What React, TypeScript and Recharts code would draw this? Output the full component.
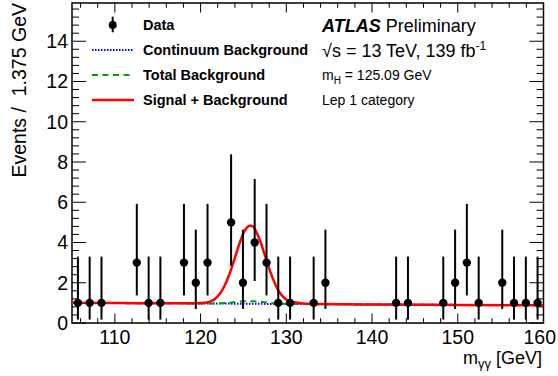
import {
  ComposedChart,
  Line,
  Scatter,
  ErrorBar,
  XAxis,
  YAxis,
  ReferenceArea,
} from "recharts";

/* ── layout ── */
const W = 558;
const H = 376;
const PLOT = { left: 72, right: 543.5, top: 3, bottom: 323 };
const FONT = "'Liberation Sans', Arial, Helvetica, sans-serif";

/* ── axes ── */
const X_MIN = 105;
const X_MAX = 160;
const Y_MAX = 15.9;
const X_MAJOR = [110, 120, 130, 140, 150, 160];
const X_TICKS = [106, 108, 110, 112, 114, 116, 118, 120, 122, 124, 126, 128, 130, 132, 134, 136, 138, 140, 142, 144, 146, 148, 150, 152, 154, 156, 158, 160];
const Y_MAJOR = [0, 2, 4, 6, 8, 10, 12, 14];
const Y_TICKS = [
  0, 0.4, 0.8, 1.2, 1.6, 2, 2.4, 2.8, 3.2, 3.6, 4, 4.4, 4.8, 5.2, 5.6, 6, 6.4, 6.8, 7.2, 7.6,
  8, 8.4, 8.8, 9.2, 9.6, 10, 10.4, 10.8, 11.2, 11.6, 12, 12.4, 12.8, 13.2, 13.6, 14, 14.4, 14.8, 15.2, 15.6,
];

/* ── data points (non-empty 1.375 GeV bins) ── */
const DATA_MASS = [
  105.69, 107.06, 108.44, 112.56, 113.94, 115.31, 118.06, 119.44, 120.81, 123.56, 124.94, 126.31, 127.69, 129.06,
  130.44, 133.19, 134.56, 142.81, 144.19, 148.31, 149.69, 151.06, 152.44, 155.19, 156.56, 157.94, 159.31,
];
const DATA_EVENTS = [1, 1, 1, 3, 1, 1, 3, 2, 3, 5, 2, 4, 3, 1, 1, 1, 2, 1, 1, 1, 2, 3, 1, 2, 1, 1, 1];
// poisson interval per count: [down, up]
const POISSON_ERR: Record<number, [number, number]> = {
  1: [0.83, 2.3],
  2: [1.3, 2.64],
  3: [1.63, 2.92],
  4: [1.91, 3.16],
  5: [2.16, 3.38],
};

/* ── fit curves ── */
const CURVE_MASS = [105, 110, 115, 118, 120, 121, 122, 122.5, 123, 123.5, 124, 124.5, 125, 125.5, 125.8, 126.1, 126.5, 127, 127.5, 128, 128.5, 129, 129.5, 130, 131, 132, 134, 140, 150, 160];
const CONTINUUM = [1.0, 0.99, 0.98, 0.975, 0.97, 0.97, 0.965, 0.965, 0.965, 0.96, 0.96, 0.96, 0.96, 0.955, 0.955, 0.955, 0.955, 0.955, 0.95, 0.95, 0.95, 0.95, 0.95, 0.945, 0.945, 0.94, 0.935, 0.92, 0.9, 0.88];
const TOTAL_BKG = [1.0, 0.99, 0.98, 0.975, 0.97, 0.972, 0.976, 0.985, 0.998, 1.012, 1.034, 1.057, 1.077, 1.083, 1.085, 1.083, 1.074, 1.056, 1.029, 1.006, 0.987, 0.972, 0.962, 0.951, 0.946, 0.94, 0.935, 0.92, 0.9, 0.88];
const SIG_BKG = [1.0, 0.99, 0.98, 0.98, 0.99, 1.05, 1.32, 1.62, 2.04, 2.59, 3.24, 3.91, 4.46, 4.78, 4.83, 4.8, 4.53, 4.01, 3.37, 2.7, 2.13, 1.67, 1.36, 1.17, 1.03, 0.97, 0.94, 0.92, 0.9, 0.88];

const curve = CURVE_MASS.map((m, i) => ({
  m,
  cont: CONTINUUM[i],
  tot: TOTAL_BKG[i],
  sb: SIG_BKG[i],
}));

const points = DATA_MASS.map((m, i) => ({
  m,
  n: DATA_EVENTS[i],
  err: POISSON_ERR[DATA_EVENTS[i]],
}));

/* ── ticks drawn inward on all four sides ── */
const XTick = (p: any) => {
  const v = p.payload.value;
  const major = X_MAJOR.includes(v);
  const len = major ? 9.5 : 4.8;
  // last label is pulled in so it stays on the canvas
  const last = v === X_MAX;
  return (
    <g>
      <line x1={p.x} x2={p.x} y1={PLOT.bottom} y2={PLOT.bottom - len} stroke="#000" />
      <line x1={p.x} x2={p.x} y1={PLOT.top} y2={PLOT.top + len} stroke="#000" />
      {major && (
        <text
          x={last ? W - 2 : p.x}
          y={PLOT.bottom + 21}
          textAnchor={last ? "end" : "middle"}
          fontSize={19.5}
          fontFamily={FONT}
          fill="#000"
        >
          {v}
        </text>
      )}
    </g>
  );
};

const YTick = (p: any) => {
  const v = p.payload.value;
  const major = Y_MAJOR.includes(v);
  const len = major ? 14 : 7;
  return (
    <g>
      <line x1={PLOT.left} x2={PLOT.left + len} y1={p.y} y2={p.y} stroke="#000" />
      <line x1={PLOT.right} x2={PLOT.right - len} y1={p.y} y2={p.y} stroke="#000" />
      {major && (
        <text x={PLOT.left - 4} y={p.y + 7} textAnchor="end" fontSize={19.5} fontFamily={FONT} fill="#000">
          {v}
        </text>
      )}
    </g>
  );
};

const Dot = (p: any) => <circle cx={p.cx} cy={p.cy} r={4.2} fill="#000" />;

/* ── legend + labels ── */
const Overlay = () => (
  <svg width={W} height={H} style={{ position: "absolute", left: 0, top: 0, pointerEvents: "none" }} fontFamily={FONT}>
    {/* legend samples */}
    <line x1={112.7} x2={112.7} y1={16.7} y2={32.3} stroke="#000" strokeWidth={2} />
    <circle cx={112.7} cy={25} r={4} fill="#000" />
    <line x1={92} x2={134} y1={50} y2={50} stroke="#0000ff" strokeWidth={2} strokeDasharray="1.5 1.5" />
    <line x1={92} x2={134} y1={75} y2={75} stroke="#00a000" strokeWidth={2} strokeDasharray="6 4.5" />
    <line x1={92} x2={134} y1={100} y2={100} stroke="#ff0000" strokeWidth={2.5} />
    <g fontSize={14.5} fontWeight="bold" fill="#000">
      <text x={143} y={30}>Data</text>
      <text x={143} y={55}>Continuum Background</text>
      <text x={143} y={80}>Total Background</text>
      <text x={143} y={105}>Signal + Background</text>
    </g>

    {/* ATLAS label */}
    <text x={322} y={31.5} fontSize={18} fill="#000">
      <tspan fontWeight="bold" fontStyle="italic">ATLAS</tspan>
      <tspan> Preliminary</tspan>
    </text>
    <text x={322} y={56.5} fontSize={18} fill="#000">
      √s = 13 TeV, 139 fb<tspan dy={-7} fontSize={12}>-1</tspan>
    </text>
    <text x={322} y={80} fontSize={14} fill="#000">
      m<tspan dy={3.5} fontSize={10}>H</tspan>
      <tspan dy={-3.5}> = 125.09 GeV</tspan>
    </text>
    <text x={322} y={105} fontSize={14} fill="#000">Lep 1 category</text>

    {/* axis titles */}
    <text x={542} y={364} textAnchor="end" fontSize={18} fill="#000">
      m<tspan dy={4} fontSize={13}>γγ</tspan>
      <tspan dy={-4}> [GeV]</tspan>
    </text>
    <text
      transform="translate(26, 3) rotate(-90)"
      textAnchor="end"
      fontSize={19.5}
      fill="#000"
      style={{ whiteSpace: "pre" }}
    >
      {"Events /\u00a0 1.375 GeV"}
    </text>
  </svg>
);

export default function App() {
  return (
    <div style={{ position: "fixed", left: 0, top: 0, width: W, height: H, background: "#fff" }}>
      <ComposedChart
        width={W}
        height={H}
        data={curve}
        margin={{ top: PLOT.top, right: W - PLOT.right, bottom: 0, left: 0 }}
      >
        <XAxis
          dataKey="m"
          type="number"
          domain={[X_MIN, X_MAX]}
          allowDataOverflow
          ticks={X_TICKS}
          interval={0}
          height={H - PLOT.bottom}
          axisLine={false}
          tickLine={false}
          tick={<XTick />}
        />
        <YAxis
          type="number"
          domain={[0, Y_MAX]}
          allowDataOverflow
          ticks={Y_TICKS}
          interval={0}
          width={PLOT.left}
          axisLine={false}
          tickLine={false}
          tick={<YTick />}
        />
        <ReferenceArea x1={X_MIN} x2={X_MAX} y1={0} y2={Y_MAX} fill="none" stroke="#000" strokeWidth={1.5} />
        <Line dataKey="cont" type="monotone" stroke="#0000ff" strokeWidth={2} strokeDasharray="1.5 1.5" dot={false} isAnimationActive={false} />
        <Line dataKey="tot" type="monotone" stroke="#00a000" strokeWidth={2} strokeDasharray="6 4.5" dot={false} isAnimationActive={false} />
        <Line dataKey="sb" type="monotone" stroke="#ff0000" strokeWidth={2.5} dot={false} isAnimationActive={false} />
        <Scatter data={points} dataKey="n" shape={<Dot />} isAnimationActive={false}>
          <ErrorBar dataKey="err" direction="y" width={0} stroke="#000" strokeWidth={2} />
        </Scatter>
      </ComposedChart>
      <Overlay />
    </div>
  );
}
